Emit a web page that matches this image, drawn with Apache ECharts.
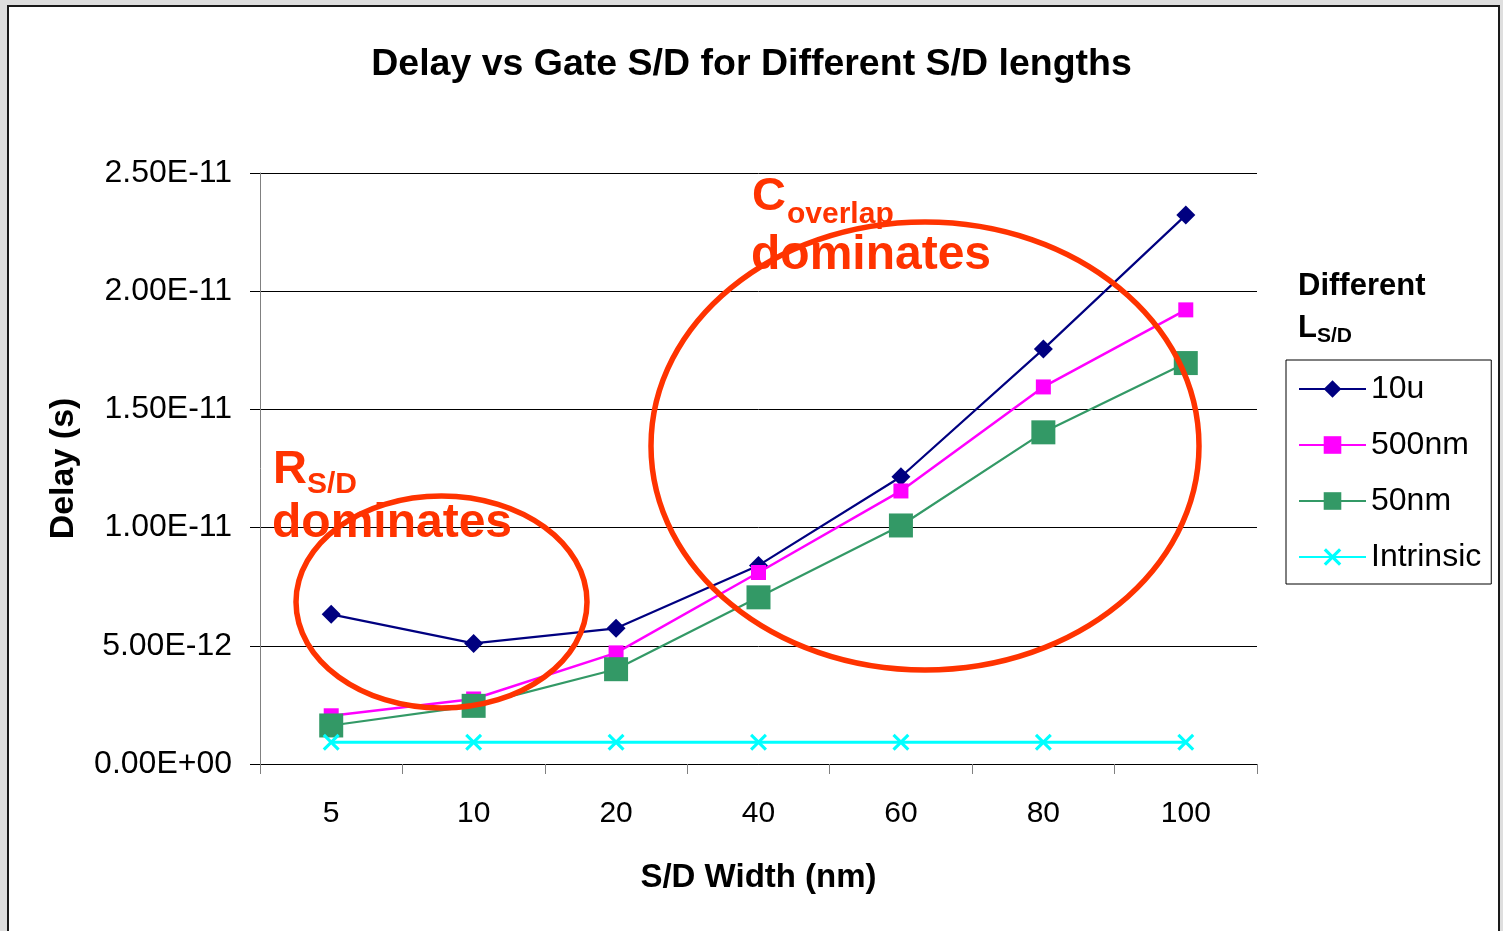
<!DOCTYPE html>
<html>
<head>
<meta charset="utf-8">
<script src="https://cdn.jsdelivr.net/npm/echarts@6/dist/echarts.min.js"></script>
<style>
  html, body { margin: 0; padding: 0; width: 1503px; height: 931px; overflow: hidden; background: #dedede; }
  #frame { position: absolute; left: 7px; top: 5px; width: 1489px; height: 1000px; background: #fff; border: 2px solid #1a1a1a; }
  #chart { position: absolute; left: 0; top: 0; width: 1503px; height: 931px; }
</style>
</head>
<body>
<div id="frame"></div>
<div id="chart"></div>
<script>
// ---- Data ----
const categories = ['5', '10', '20', '40', '60', '80', '100'];
const delay10u = [6.33e-12, 5.10e-12, 5.74e-12, 8.40e-12, 12.15e-12, 17.55e-12, 23.22e-12];
const delay500nm = [2.04e-12, 2.75e-12, 4.70e-12, 8.10e-12, 11.55e-12, 15.95e-12, 19.21e-12];
const delay50nm = [1.63e-12, 2.46e-12, 4.01e-12, 7.05e-12, 10.09e-12, 14.03e-12, 16.96e-12];
const delayIntrinsic = [0.92e-12, 0.92e-12, 0.92e-12, 0.92e-12, 0.92e-12, 0.92e-12, 0.92e-12];
const seriesNames = ['10u', '500nm', '50nm', 'Intrinsic'];
const yMin = 0, yMax = 2.5e-11, yStep = 5e-12;

const FONT = "'Liberation Sans', Arial, sans-serif";
const RED = '#ff3300';

function fmtExp(v) {
  const s = Number(v).toExponential(2).toUpperCase();
  const m = s.match(/^(-?[\d.]+)E([+-])(\d+)$/);
  if (!m) return s;
  return m[1] + 'E' + m[2] + (m[3].length < 2 ? '0' + m[3] : m[3]);
}

const crossPath = 'path://M0,1.3L1.3,0L5,3.7L8.7,0L10,1.3L6.3,5L10,8.7L8.7,10L5,6.3L1.3,10L0,8.7L3.7,5Z';

const chart = echarts.init(document.getElementById('chart'), null, { renderer: 'canvas' });

const option = {
  backgroundColor: 'transparent',
  animation: false,
  textStyle: { fontFamily: FONT },
  title: {
    text: 'Delay vs Gate S/D for Different S/D lengths',
    left: 'center',
    top: 41,
    textStyle: { fontFamily: FONT, fontSize: 37.5, fontWeight: 'bold', color: '#000' }
  },
  grid: { left: 260, right: 246, top: 173, bottom: 167, containLabel: false },
  legend: {
    orient: 'vertical',
    left: 1286,
    top: 360,
    padding: [13, 10, 11, 12],
    borderColor: '#000',
    borderWidth: 1,
    itemWidth: 67,
    itemHeight: 22,
    itemGap: 24,
    data: seriesNames,
    textStyle: { fontFamily: FONT, fontSize: 32, color: '#000' }
  },
  xAxis: {
    type: 'category',
    data: categories,
    boundaryGap: true,
    name: 'S/D Width (nm)',
    nameLocation: 'middle',
    nameGap: 97,
    nameTextStyle: { fontFamily: FONT, fontSize: 33, fontWeight: 'bold', color: '#000' },
    axisLine: { show: true, lineStyle: { color: '#000', width: 1 } },
    axisTick: { show: true, length: 10, alignWithLabel: false, lineStyle: { color: '#808080', width: 1 } },
    axisLabel: { margin: 35, fontFamily: FONT, fontSize: 30, color: '#000' },
    splitLine: { show: false }
  },
  yAxis: {
    type: 'value',
    min: yMin,
    max: yMax,
    interval: yStep,
    name: 'Delay (s)',
    nameLocation: 'middle',
    nameGap: 179,
    nameTextStyle: { fontFamily: FONT, fontSize: 34, fontWeight: 'bold', color: '#000' },
    axisLine: { show: true, lineStyle: { color: '#808080', width: 1 } },
    axisTick: { show: true, length: 10, lineStyle: { color: '#000', width: 1 } },
    axisLabel: { margin: 28, fontFamily: FONT, fontSize: 32, color: '#000', formatter: fmtExp },
    splitLine: { show: true, lineStyle: { color: '#000', width: 1 } }
  },
  series: [
    {
      name: seriesNames[0], type: 'line', data: delay10u,
      symbol: 'diamond', symbolSize: 19,
      itemStyle: { color: '#000080' }, lineStyle: { color: '#000080', width: 2.2 }, z: 2
    },
    {
      name: seriesNames[1], type: 'line', data: delay500nm,
      symbol: 'rect', symbolSize: 15,
      itemStyle: { color: '#ff00ff' }, lineStyle: { color: '#ff00ff', width: 2.5 }, z: 3
    },
    {
      name: seriesNames[2], type: 'line', data: delay50nm,
      symbol: 'rect', symbolSize: 24,
      itemStyle: { color: '#339966' }, lineStyle: { color: '#339966', width: 2.2 }, z: 4
    },
    {
      name: seriesNames[3], type: 'line', data: delayIntrinsic,
      symbol: crossPath, symbolSize: 17,
      itemStyle: { color: '#00ffff' }, lineStyle: { color: '#00ffff', width: 3 }, z: 5
    }
  ],
  graphic: [
    { type: 'ellipse', z: 100, shape: { cx: 441.5, cy: 602, rx: 145.5, ry: 106 },
      style: { fill: 'none', stroke: RED, lineWidth: 5.5 } },
    { type: 'ellipse', z: 100, shape: { cx: 925, cy: 446, rx: 274, ry: 224 },
      style: { fill: 'none', stroke: RED, lineWidth: 5.5 } },
    { type: 'text', z: 101, style: { text: 'C', x: 752, y: 197, fill: RED, font: 'bold 47px ' + FONT, verticalAlign: 'middle' } },
    { type: 'text', z: 101, style: { text: 'overlap', x: 787, y: 215, fill: RED, font: 'bold 30px ' + FONT, verticalAlign: 'middle' } },
    { type: 'text', z: 101, style: { text: 'dominates', x: 751, y: 256, fill: RED, font: 'bold 48px ' + FONT, verticalAlign: 'middle' } },
    { type: 'text', z: 101, style: { text: 'R', x: 273, y: 470, fill: RED, font: 'bold 47px ' + FONT, verticalAlign: 'middle' } },
    { type: 'text', z: 101, style: { text: 'S/D', x: 307, y: 485, fill: RED, font: 'bold 30px ' + FONT, verticalAlign: 'middle' } },
    { type: 'text', z: 101, style: { text: 'dominates', x: 272, y: 524, fill: RED, font: 'bold 48px ' + FONT, verticalAlign: 'middle' } },
    { type: 'text', z: 101, style: { text: 'Different', x: 1298, y: 286, fill: '#000', font: 'bold 31px ' + FONT, verticalAlign: 'middle' } },
    { type: 'text', z: 101, style: { text: 'L', x: 1298, y: 328, fill: '#000', font: 'bold 31px ' + FONT, verticalAlign: 'middle' } },
    { type: 'text', z: 101, style: { text: 'S/D', x: 1317, y: 336, fill: '#000', font: 'bold 21px ' + FONT, verticalAlign: 'middle' } }
  ]
};

chart.setOption(option);
</script>
</body>
</html>
